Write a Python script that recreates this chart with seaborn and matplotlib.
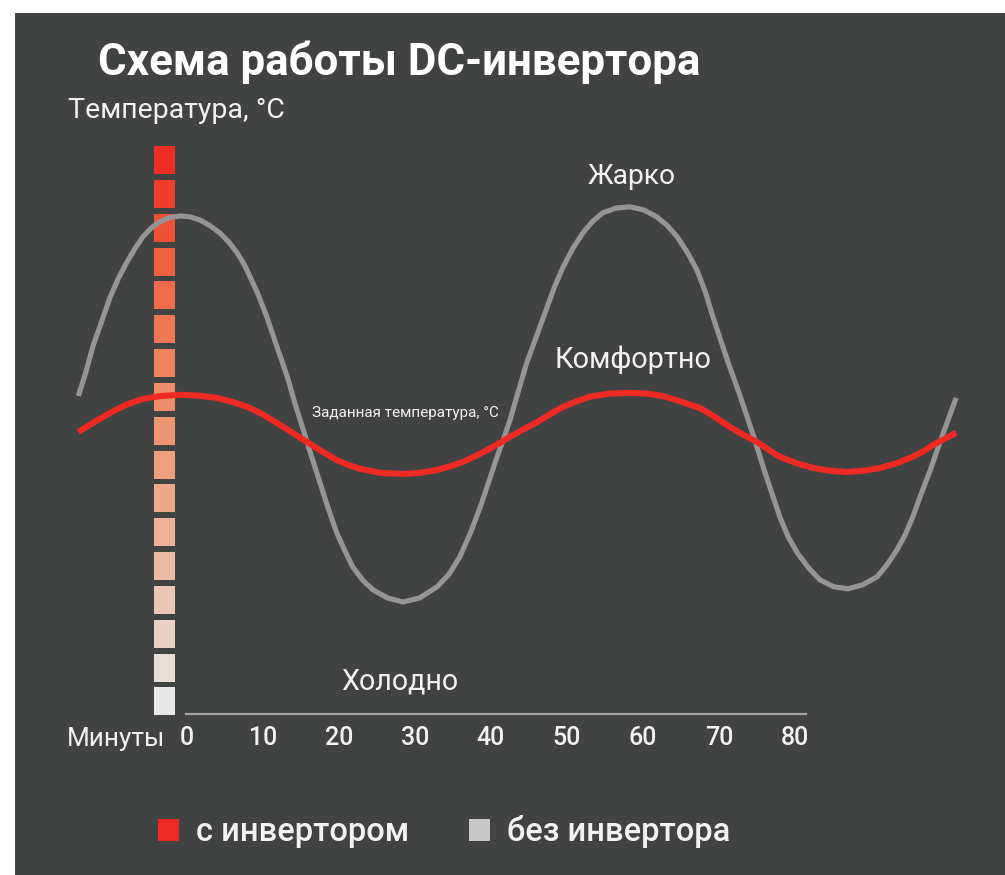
import matplotlib
matplotlib.use("Agg")
import matplotlib.pyplot as plt
from matplotlib.patches import Patch
import seaborn as sns
import pandas as pd

# ---------------- data ----------------
minutes_gray = [-14.3, -13.3, -12.4, -11.2, -10.1, -9.0, -7.9, -6.8, -5.8, -4.7, -3.6, -2.3, -0.9,
                0.4, 1.7, 3.0, 4.3, 5.5, 6.6, 7.5, 8.3, 9.4, 10.5, 11.8, 13.2, 14.2, 15.3, 16.4,
                17.5, 18.6, 19.7, 20.8, 21.8, 23.1, 24.5, 26.4, 28.4, 30.6, 32.9, 34.5, 35.9, 37.3,
                38.6, 39.7, 40.8, 41.7, 42.5, 43.6, 44.7, 46.1, 47.4, 48.4, 49.5, 50.8, 52.1, 53.4,
                54.7, 56.5, 58.3, 60.1, 61.8, 63.2, 64.5, 65.8, 67.1, 68.2, 69.2, 70.3, 71.4, 72.6,
                73.7, 74.8, 75.8, 76.9, 78.0, 79.1, 80.3, 81.8, 83.3, 85.1, 87.0, 88.9, 90.8, 92.1,
                93.4, 94.5, 95.5, 96.6, 97.8, 98.9, 100.0, 101.2]
temp_gray = [24.10, 24.70, 25.33, 25.98, 26.58, 27.05, 27.45, 27.80, 28.08, 28.30, 28.45, 28.56,
             28.60, 28.58, 28.50, 28.36, 28.18, 27.95, 27.68, 27.40, 27.08, 26.62, 26.08, 25.35,
             24.58, 23.92, 23.25, 22.58, 21.93, 21.28, 20.68, 20.22, 19.83, 19.50, 19.25, 19.05,
             18.95, 19.05, 19.33, 19.65, 20.08, 20.68, 21.33, 21.95, 22.58, 23.05, 23.50, 24.22,
             24.93, 25.65, 26.33, 26.85, 27.33, 27.80, 28.18, 28.47, 28.68, 28.80, 28.83, 28.75,
             28.58, 28.36, 28.08, 27.70, 27.25, 26.70, 26.08, 25.45, 24.83, 24.20, 23.58, 22.95,
             22.33, 21.70, 21.08, 20.58, 20.18, 19.80, 19.50, 19.33, 19.28, 19.38, 19.58, 19.88,
             20.25, 20.63, 21.08, 21.65, 22.25, 22.85, 23.43, 24.05]

minutes_red = [-14.3, -12.2, -10.1, -8.0, -5.8, -3.4, -0.9, 1.5, 4.0, 6.0, 7.9, 9.9, 11.8, 13.8,
               15.8, 17.8, 19.7, 21.3, 22.8, 25.4, 28.4, 30.7, 32.9, 34.6, 36.3, 37.9, 39.5, 41.0,
               42.5, 44.3, 46.1, 47.8, 49.5, 51.3, 53.0, 55.6, 58.3, 60.5, 62.6, 64.4, 66.2, 67.5,
               69.5, 71.4, 73.2, 75.0, 76.5, 78.0, 80.2, 82.4, 84.6, 86.8, 89.0, 91.2, 93.4, 95.5,
               96.9, 98.2, 99.7, 101.2]
temp_red = [23.20, 23.45, 23.68, 23.88, 24.03, 24.10, 24.13, 24.11, 24.05, 23.95, 23.83, 23.65,
            23.43, 23.19, 22.95, 22.71, 22.50, 22.37, 22.28, 22.18, 22.15, 22.18, 22.25, 22.34,
            22.45, 22.59, 22.75, 22.91, 23.08, 23.27, 23.45, 23.65, 23.83, 23.97, 24.08, 24.16,
            24.18, 24.16, 24.10, 24.00, 23.88, 23.80, 23.57, 23.33, 23.13, 22.95, 22.76, 22.58,
            22.42, 22.30, 22.23, 22.20, 22.23, 22.30, 22.42, 22.58, 22.72, 22.88, 23.03, 23.18]

tick_minutes = [0, 10, 20, 30, 40, 50, 60, 70, 80]
tick_labels = ["0", "10", "20", "30", "40", "50", "60", "70", "80"]

scale_colors = ["#EE2E24", "#EE3F2C", "#EE5236", "#EE603F", "#EE6C49", "#EE7853", "#EE835E",
                "#EE8D68", "#EE9672", "#EE9F7D", "#EDA88A", "#EDB197", "#ECBBA5", "#EBC6B5",
                "#EAD1C6", "#E8DCD7", "#E6E7E6"]

title = "Схема работы DC-инвертора"
y_label = "Температура, °C"
x_label = "Минуты"
legend_labels = ["с инвертором", "без инвертора"]

# ---------------- style ----------------
sns.set_theme(style="dark")
plt.rcParams["font.family"] = ["Roboto", "DejaVu Sans"]

BG = "#414342"
RED = "#EE2A24"
GRAY = "#959595"
TXT = "#F2F2F2"

W, H = 1005, 875
fig = plt.figure(figsize=(W / 100, H / 100), dpi=100, facecolor="white")
ax = fig.add_axes([15 / W, 0, 990 / W, 862 / H])
ax.set_facecolor(BG)
ax.set_xlim(-22.63, 107.63)
ax.set_ylim(12.125, 33.675)
ax.add_patch(plt.Rectangle((0, 0), 1, 1, transform=ax.transAxes, color=BG, zorder=0))

# temperature scale squares
for i, c in enumerate(scale_colors):
    top = 30.35 - 0.846 * i
    ax.bar(-2.96, 0.7, width=2.76, bottom=top - 0.7, color=c, edgecolor="none", zorder=1)

df_gray = pd.DataFrame({"min": minutes_gray, "temp": temp_gray})
df_red = pd.DataFrame({"min": minutes_red, "temp": temp_red})
sns.lineplot(data=df_gray, x="min", y="temp", color=GRAY, linewidth=3.7, sort=False,
             ax=ax, zorder=3, solid_capstyle="butt", solid_joinstyle="round")
sns.lineplot(data=df_red, x="min", y="temp", color=RED, linewidth=4.4, sort=False,
             ax=ax, zorder=4, solid_capstyle="butt", solid_joinstyle="round")
ax.set_axis_off()

# x axis line and ticks
ax.hlines(16.15, -0.26, 81.6, color="#A5A5A5", linewidth=1.6, zorder=2)
for m, lab in zip(tick_minutes, tick_labels):
    ax.text(m, 15.55, lab, color=TXT, fontsize=18, fontweight="medium",
            ha="center", va="center", zorder=5)


def ptext(x, y, s, **kw):
    fig.text(x / W, 1 - y / H, s, **kw)


ptext(98, 62, title, color="white", fontsize=31.6, fontweight="bold", ha="left", va="center")
ptext(68, 110, y_label, color=TXT, fontsize=20.5, ha="left", va="center")
ptext(116, 739, x_label, color=TXT, fontsize=18.8, ha="center", va="center")
ptext(632, 176, "Жарко", color=TXT, fontsize=20.3, ha="center", va="center")
ptext(633, 360, "Комфортно", color=TXT, fontsize=20.8, ha="center", va="center")
ptext(405, 413, "Заданная температура, °C", color=TXT, fontsize=11, ha="center", va="center")
ptext(400, 681, "Холодно", color=TXT, fontsize=20.6, ha="center", va="center")

handles = [Patch(facecolor=RED, edgecolor="none"), Patch(facecolor="#C8C8C8", edgecolor="none")]
leg = ax.legend(handles, legend_labels, loc="center left", bbox_to_anchor=(158 / W, 1 - 832 / H),
                bbox_transform=fig.transFigure, ncol=2, frameon=False, fontsize=23.5,
                handlelength=0.64, handleheight=0.64, handletextpad=0.52, columnspacing=1.84,
                borderpad=0, borderaxespad=0)
for t in leg.get_texts():
    t.set_color(TXT)
    t.set_fontweight("medium")

fig.savefig("out.png", dpi=100, facecolor="white")
